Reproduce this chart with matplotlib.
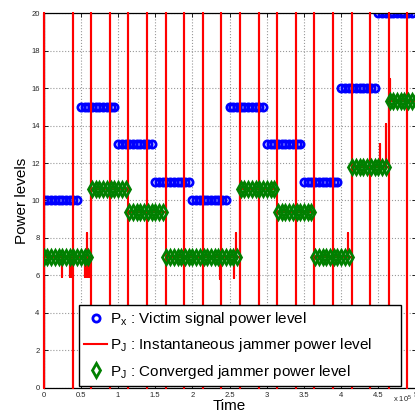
import numpy as np
import matplotlib
matplotlib.use('Agg')
import matplotlib.pyplot as plt

plt.rcParams['font.family'] = ['Liberation Sans', 'DejaVu Sans']
plt.rcParams['mathtext.fontset'] = 'custom'
plt.rcParams['mathtext.rm'] = 'Liberation Sans'
plt.rcParams['mathtext.it'] = 'Liberation Sans:italic'

# victim signal power level, one value per 0.5 slot (time in units of 1e5)
px_start = [0.0, 0.5, 1.0, 1.5, 2.0, 2.5, 3.0, 3.5, 4.0, 4.5]
px_level = [10, 15, 13, 11, 10, 15, 13, 11, 16, 20]
samples_per_slot = 10   # samples every 0.05

# converged jammer power level (only plotted once converged)
pj_start = [0.0, 0.65, 1.15, 1.65, 2.65, 3.15, 3.65, 4.15, 4.65]
pj_end = [0.60, 1.10, 1.60, 2.60, 3.10, 3.60, 4.10, 4.60, 5.00]
pj_level = [7.0, 10.6, 9.4, 7.0, 10.6, 9.4, 7.0, 11.8, 15.3]

# instantaneous jammer power: level changes, full-range sweeps and small spikes
jam_change = [0.0, 0.64, 1.14, 1.64, 2.64, 3.14, 3.64, 4.14, 4.64]
sweep_t = [0.0, 0.39, 0.64, 0.89, 1.14, 1.39, 1.64, 1.89, 2.14, 2.39,
           2.64, 2.89, 3.14, 3.39, 3.64, 3.89, 4.14, 4.39, 4.64, 4.89]
spike_t = [0.25, 0.35, 0.365, 0.38, 0.40, 0.555, 0.57, 0.585, 0.60, 0.615,
           2.37, 2.56, 2.59, 4.09, 4.52, 4.60, 4.66]
spike_v = [5.9, 5.9, 5.9, 5.9, 5.9, 5.9, 5.9, 8.25, 5.9, 5.9,
           5.8, 5.85, 8.25, 8.25, 13.0, 14.1, 16.5]

# sampled victim level
t_px = []
v_px = []
for s, lev in zip(px_start, px_level):
    for k in range(samples_per_slot):
        t_px.append(s + 0.05 * k)
        v_px.append(lev)

# sampled converged jammer level
t_pj = []
v_pj = []
for s, e, lev in zip(pj_start, pj_end, pj_level):
    for tt in np.arange(s, e + 1e-6, 0.05):
        t_pj.append(tt)
        v_pj.append(lev)


def jam_level(tt, before=False):
    lev = pj_level[0]
    for c, l in zip(jam_change, pj_level):
        if c < tt or (c == tt and not before):
            lev = l
    return lev


events = [(tt, 'sweep', None) for tt in sweep_t] + [(tt, 'spike', v) for tt, v in zip(spike_t, spike_v)]
events.sort(key=lambda e: e[0])
t_red = []
v_red = []
for tt, kind, v in events:
    l0 = jam_level(tt, before=True)
    l1 = jam_level(tt)
    if kind == 'sweep':
        t_red += [tt, tt, tt, tt]
        v_red += [l0, 20, 0, l1]
    else:
        t_red += [tt, tt, tt]
        v_red += [l0, v, l0]
t_red.append(5.0)
v_red.append(jam_level(5.0))

fig = plt.figure(figsize=(4.15, 4.12), dpi=100)
ax = fig.add_axes([0.1053, 0.0583, 0.896, 0.9101])

ax.plot(t_px, v_px, 'o', color='blue', mfc='none', mew=2, ms=5.2, linestyle='none',
        label=r'P$_{\rm x}$ : Victim signal power level')
ax.plot(t_red, v_red, '-', color='red', lw=1.5, clip_on=False, zorder=2.6,
        label=r'P$_{\rm J}$ : Instantaneous jammer power level')
ax.plot(t_pj, v_pj, 'd', color='green', mfc='none', mew=2, ms=7.2, linestyle='none',
        zorder=2.7, label=r'P$_{\rm J}$ : Converged jammer power level')

ax.set_xlim(0, 5)
ax.set_ylim(0, 20)
ax.set_xticks(np.arange(0, 5.01, 0.5))
ax.set_xticklabels(['0', '0.5', '1', '1.5', '2', '2.5', '3', '3.5', '4', '4.5', '5'])
ax.set_yticks(np.arange(0, 20.1, 2))
ax.tick_params(direction='in', top=True, right=True, length=3, width=0.6,
               labelsize=5.5, labelcolor='#262626', pad=3)
ax.grid(True, linestyle=':', color='#999999', lw=0.8)
for sp in ax.spines.values():
    sp.set_linewidth(0.9)

ax.set_xlabel('Time', fontsize=11)
ax.set_ylabel('Power levels', fontsize=11)
ax.xaxis.set_label_coords(0.5, -0.03)
ax.yaxis.set_label_coords(-0.04, 0.5)

fig.text(0.947, 0.022, r'x 10$^5$', fontsize=5.5, color='#262626')

leg = ax.legend(loc='lower left', bbox_to_anchor=(0.095, 0.005, 0.865, 0.22), mode='expand',
                fontsize=11, numpoints=1, handlelength=1.5, handletextpad=0.15,
                borderpad=0.35, labelspacing=0.55, fancybox=False, framealpha=1,
                edgecolor='black', borderaxespad=0)
leg.get_frame().set_linewidth(1.0)
leg.set_zorder(5)

fig.savefig('out.png', dpi=100)
